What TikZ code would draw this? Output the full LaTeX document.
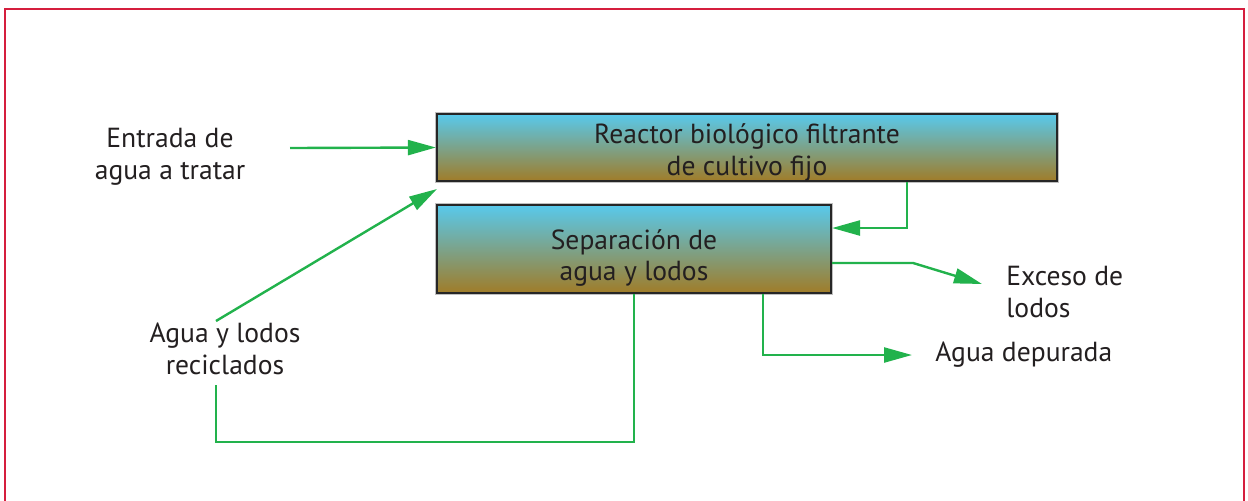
\documentclass[tikz,border=0pt]{standalone}
\usepackage{fontspec}
\setmainfont{PT Sans}
\usetikzlibrary{positioning,arrows.meta}

\definecolor{framered}{RGB}{213,30,62}
\definecolor{flowgreen}{RGB}{34,178,76}
\definecolor{skyblue}{RGB}{88,201,236}
\definecolor{mudbrown}{RGB}{160,124,40}
\definecolor{ink}{RGB}{35,31,32}

\tikzset{
  tank/.style={draw=black!85, line width=1.1pt, top color=skyblue, bottom color=mudbrown,
    preaction={draw=black!25, line width=2pt}, inner sep=0pt},
  tag/.style={text=ink, align=center, inner sep=0pt, font=\fontsize{13.8}{15.8}\selectfont},
  pipe/.style={draw=flowgreen, line width=1.2pt},
  flow/.style={pipe, -{Triangle[length=14pt,width=7.5pt]}},
}

\begin{document}
\begin{tikzpicture}[x=0.5pt, y=-0.5pt]
  \useasboundingbox (0,0) rectangle (1248,500);
  \draw[framered, line width=1.2pt] (5,530) -- (5,9) -- (1244,9) -- (1244,530);

  % tanks
  \node[tank, minimum width=310pt, minimum height=33.5pt] (reactor) at (747,147.5) {};
  \node[tank, minimum width=197pt, minimum height=44pt] (separacion) at (634,249) {};
  \node[tag] (reactorText) at ([yshift=-2.5pt]reactor.center) {Reactor biológico filtrante\\de cultivo fijo};
  \node[tag] (separacionText) at ([yshift=-4.5pt]separacion.center) {Separación de\\agua y lodos};

  % labels
  \node[tag] (entrada) at (170,157) {Entrada de\\agua a tratar};
  \node[tag] (reciclados) at (225,349) {Agua y lodos\\reciclados};
  \coordinate (excTip) at (982,284);
  \coordinate (depTip) at (912,355);
  \node[tag, align=left, anchor=west] (exceso) at (1006,292) {Exceso de\\lodos};
  \node[tag, anchor=west, right=11.5pt of depTip] (depurada) {Agua depurada};

  % free ends
  \coordinate (entIn) at (290,148);
  \coordinate (recUp) at (216,321);
  \coordinate (recTip) at (437,189);
  \coordinate (recLow) at (216,385);

  \draw[flow] (entIn) -- (reactor.west);
  \draw[flow] (recUp) -- (recTip);
  \draw[pipe] (separacion.south) |- (216,442) -- (recLow);
  \draw[flow] ([xshift=-75.5pt]reactor.south east) |- ([yshift=10.5pt]separacion.east);
  \draw[flow] ([yshift=-7pt]separacion.east) -- ++(81,0) -- (excTip);
  \draw[flow] ([xshift=64.5pt]separacion.south) |- (depTip);
\end{tikzpicture}
\end{document}
